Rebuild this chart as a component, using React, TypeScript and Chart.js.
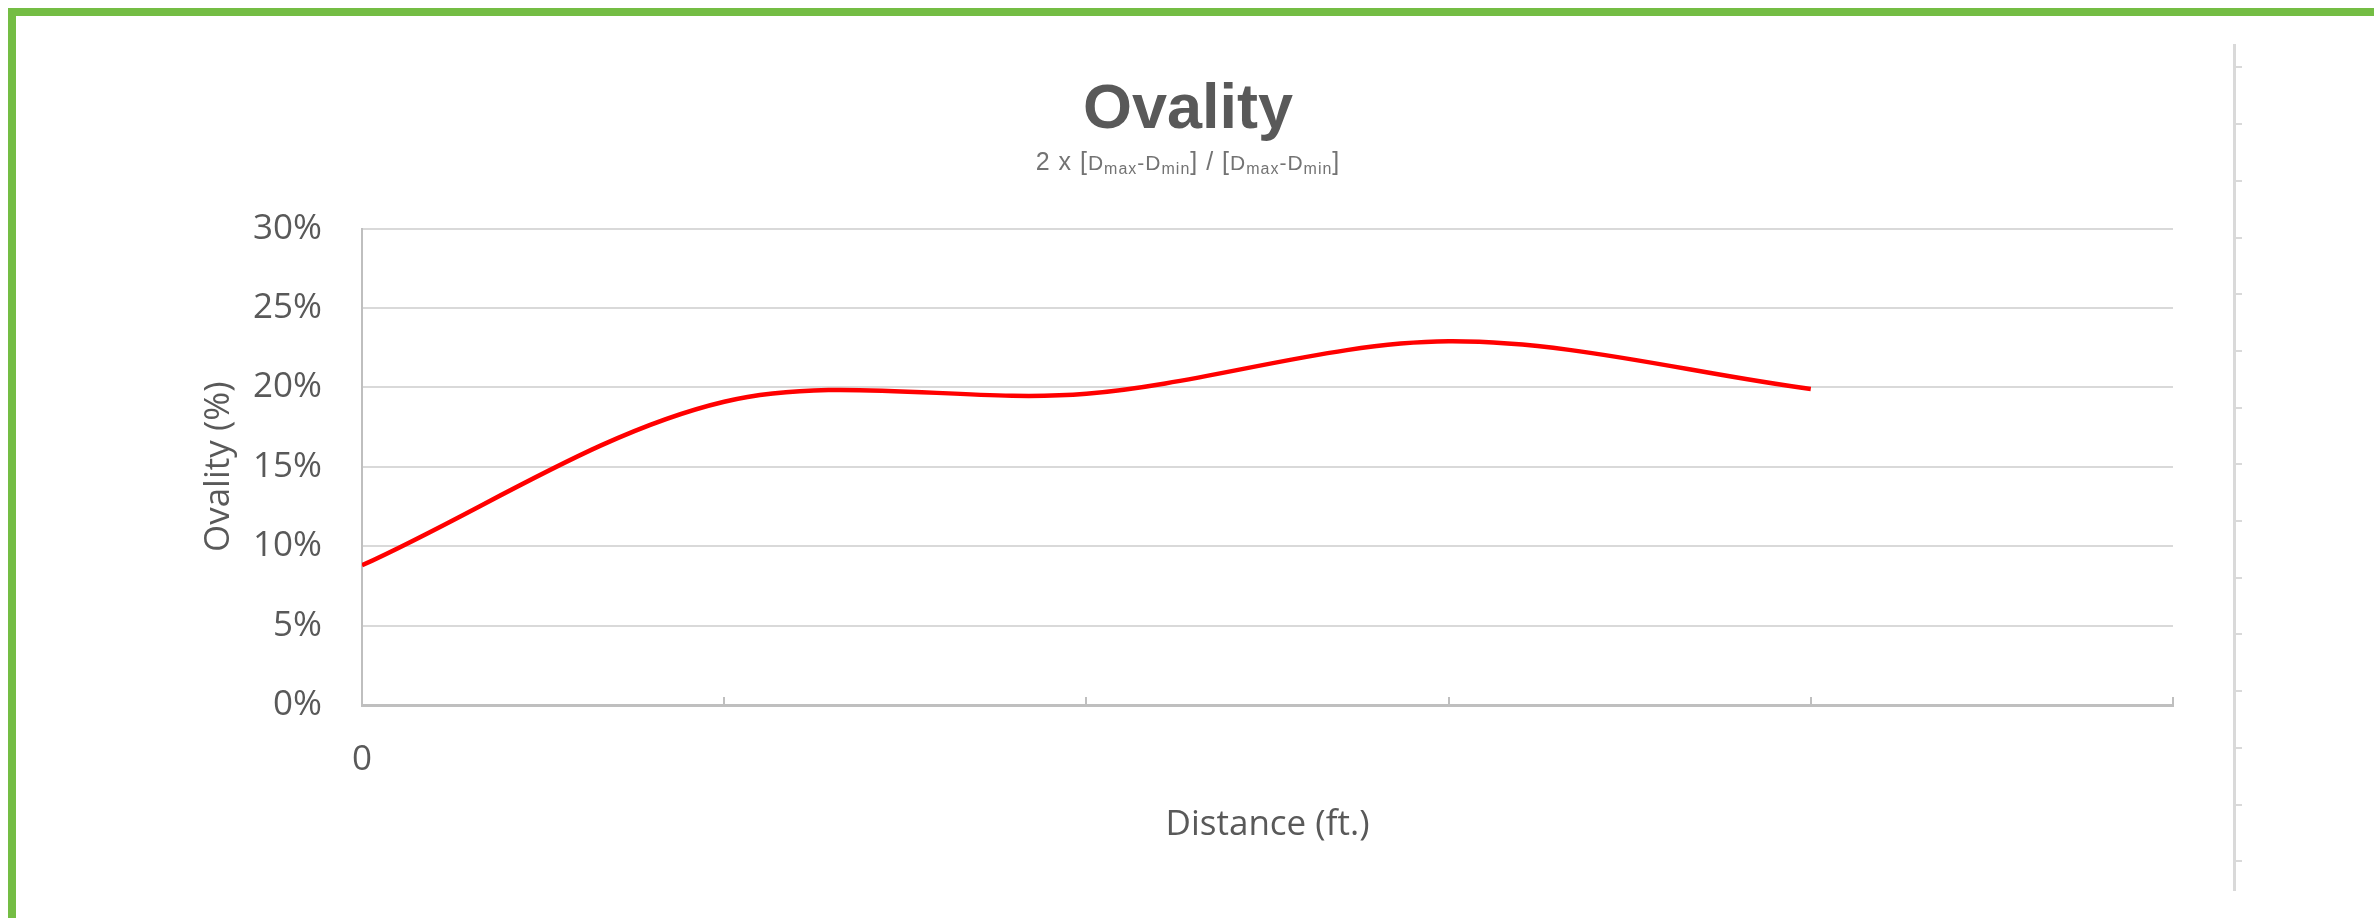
import React, { useEffect, useRef } from 'react';
import { Chart, registerables } from 'chart.js';

Chart.register(...registerables);

// ---- data ----
const distances = [0, 1, 2, 3, 4];
const ovalityPct = [8.8, 19.1, 19.6, 22.9, 19.9];
const xTickLabels = ['0', '', '', '', '', ''];
const yTickLabels = ['0%', '5%', '10%', '15%', '20%', '25%', '30%'];
const chartTitle = 'Ovality';
const xAxisTitle = 'Distance (ft.)';
const yAxisTitle = 'Ovality (%)';
const subtitleParts = [
  { text: '2 x [', size: 25, sub: false },
  { text: 'D', size: 21, sub: false },
  { text: 'max', size: 16, sub: true },
  { text: '-D', size: 21, sub: false },
  { text: 'min', size: 16, sub: true },
  { text: '] / [', size: 25, sub: false },
  { text: 'D', size: 21, sub: false },
  { text: 'max', size: 16, sub: true },
  { text: '-D', size: 21, sub: false },
  { text: 'min', size: 16, sub: true },
  { text: ']', size: 25, sub: false },
];

const GREEN = '#74bd44';
const AXIS = '#bfbfbf';
const GRID = '#d9d9d9';
const TEXT = '#595959';
const FONT = '"Open Sans", "Noto Sans", sans-serif';

const subtitlePlugin = {
  id: 'ovalitySubtitle',
  afterDraw(chart: any) {
    const ctx = chart.ctx as CanvasRenderingContext2D;
    ctx.save();
    (ctx as any).letterSpacing = '1px';
    let total = 0;
    const widths = subtitleParts.map((p) => {
      ctx.font = `${p.size}px "Liberation Sans", Arial, sans-serif`;
      const w = ctx.measureText(p.text).width;
      total += w;
      return w;
    });
    let x = chart.width / 2 - total / 2;
    const baseline = 154;
    ctx.fillStyle = '#737373';
    ctx.textBaseline = 'alphabetic';
    ctx.textAlign = 'left';
    subtitleParts.forEach((p, i) => {
      ctx.font = `${p.size}px "Liberation Sans", Arial, sans-serif`;
      ctx.fillText(p.text, x, baseline + (p.sub ? 4 : 0));
      x += widths[i];
    });
    ctx.restore();
  },
};

export default function App() {
  const canvasRef = useRef<HTMLCanvasElement | null>(null);

  useEffect(() => {
    document.documentElement.style.overflow = 'hidden';
    document.body.style.overflow = 'hidden';
    const canvas = canvasRef.current;
    if (!canvas) return;
    const chart = new Chart(canvas, {
      type: 'line',
      data: {
        datasets: [
          {
            data: distances.map((d, i) => ({ x: d, y: ovalityPct[i] })),
            borderColor: '#ff0000',
            backgroundColor: '#ff0000',
            borderWidth: 4.5,
            pointRadius: 0,
            tension: 0.33,
            fill: false,
          },
        ],
      },
      options: {
        responsive: false,
        animation: false,
        devicePixelRatio: 1,
        layout: { padding: 0 },
        plugins: {
          legend: { display: false },
          tooltip: { enabled: false },
          title: {
            display: true,
            text: chartTitle,
            color: TEXT,
            font: { family: '"Liberation Sans", Arial, sans-serif', size: 63, weight: 'bold', lineHeight: 1.2 },
            padding: { top: 57, bottom: 80 },
          },
        },
        scales: {
          x: {
            type: 'linear',
            position: 'bottom',
            min: 0,
            max: 5,
            afterFit: (s: any) => {
              s.height = 213;
            },
            ticks: {
              stepSize: 1,
              autoSkip: false,
              maxRotation: 0,
              padding: 42,
              color: TEXT,
              font: { family: FONT, size: 35 },
              callback: (_v: any, i: number) => xTickLabels[i] ?? '',
            },
            grid: {
              display: true,
              drawOnChartArea: false,
              drawTicks: true,
              tickLength: -8,
              color: AXIS,
              lineWidth: 2,
            },
            border: { display: true, color: AXIS, width: 3 },
            title: {
              display: true,
              text: xAxisTitle,
              color: TEXT,
              font: { family: FONT, size: 35 },
              padding: { top: 0, bottom: 72 },
            },
          },
          y: {
            type: 'linear',
            position: 'left',
            min: 0,
            max: 30,
            afterFit: (s: any) => {
              s.width = 346;
            },
            ticks: {
              stepSize: 5,
              padding: 40,
              color: TEXT,
              font: { family: FONT, size: 35 },
              callback: (_v: any, i: number) => yTickLabels[i] ?? '',
            },
            grid: { color: GRID, lineWidth: 2, drawTicks: false },
            border: { display: true, color: AXIS, width: 2 },
            title: {
              display: true,
              text: yAxisTitle,
              color: TEXT,
              font: { family: FONT, size: 35 },
              padding: { top: 182, bottom: 0 },
            },
          },
          yRight: {
            type: 'linear',
            position: 'right',
            display: true,
            afterFit: (s: any) => {
              s.width = 187;
            },
            ticks: { display: false },
            grid: { display: false, drawTicks: false },
            border: { display: false },
          },
        },
      } as any,
      plugins: [subtitlePlugin],
    });
    return () => chart.destroy();
  }, []);

  const rulerTicks = Array.from({ length: 15 }, (_, k) => k);

  return (
    <div
      style={{
        position: 'fixed',
        left: 8,
        top: 8,
        width: 2366,
        height: 910,
        boxSizing: 'border-box',
        borderTop: `8px solid ${GREEN}`,
        borderLeft: `8px solid ${GREEN}`,
        background: '#ffffff',
        overflow: 'hidden',
      }}
    >
      <canvas
        ref={canvasRef}
        width={2344}
        height={902}
        style={{ position: 'absolute', left: 0, top: 0, width: 2344, height: 902 }}
      />
      <div
        style={{
          position: 'absolute',
          left: 2217,
          top: 28,
          width: 3,
          height: 847,
          background: GRID,
        }}
      />
      {rulerTicks.map((k) => (
        <div
          key={k}
          style={{
            position: 'absolute',
            left: 2220,
            top: 50.4 + k * 56.7,
            width: 6,
            height: 2,
            background: GRID,
          }}
        />
      ))}
    </div>
  );
}
